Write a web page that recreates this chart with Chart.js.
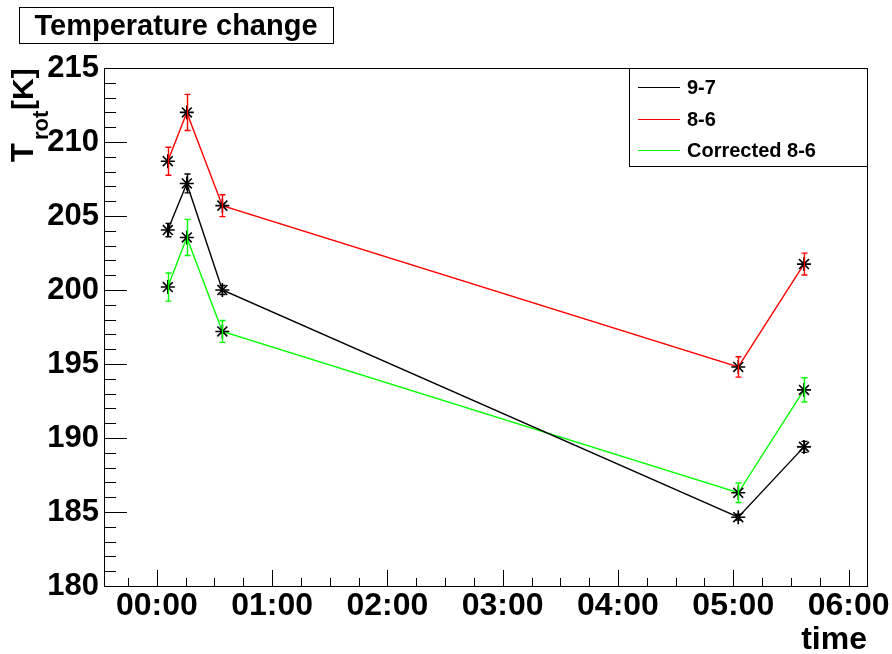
<!DOCTYPE html>
<html>
<head>
    <title>Temperature change</title>
    <style>
        body { margin: 0; padding: 0; background: #fff; }
        #chartContainer { width: 892px; height: 654px; }
    </style>
    <script src="https://cdn.jsdelivr.net/npm/chart.js"></script>
</head>
<body>

    <div id="chartContainer">
        <canvas id="tempChart" width="892" height="654"></canvas>
    </div>

    <script>
        // time in minutes after 00:00
        const times = [5.7, 15.6, 34.1, 302.6, 336.8];

        const t97 = [204.05, 207.2, 200.0, 184.65, 189.4];
        const err97 = [0.45, 0.64, 0.3, 0.2, 0.37];

        const t86 = [208.7, 212.0, 205.7, 194.8, 201.75];
        const err86 = [0.95, 1.22, 0.74, 0.69, 0.74];

        const t86c = [200.2, 203.55, 197.2, 186.3, 193.25];
        const errc = [0.95, 1.22, 0.74, 0.66, 0.82];

        const seriesNames = ['9-7', '8-6', 'Corrected 8-6'];
        const seriesColors = ['#000000', '#ff0000', '#00ff00'];

        const hourLabels = ['00:00', '01:00', '02:00', '03:00', '04:00', '05:00', '06:00'];

        const FONT = '"Liberation Sans", Helvetica, Arial, sans-serif';

        function points(ys) {
            return ys.map((y, i) => ({ x: times[i], y: y }));
        }

        function makeSet(i, ys, errs) {
            return {
                label: seriesNames[i],
                data: points(ys),
                errors: errs,
                borderColor: seriesColors[i],
                borderWidth: 1.4,
                backgroundColor: seriesColors[i],
                tension: 0,
                pointStyle: 'star',
                pointRadius: 7,
                pointBorderColor: '#000',
                pointBorderWidth: 1.6,
                pointBackgroundColor: '#000'
            };
        }

        // error bars, drawn through the scales
        const errorBars = {
            id: 'errorBars',
            afterDatasetsDraw(chart) {
                const ctx = chart.ctx;
                const xs = chart.scales.x, ys = chart.scales.y;
                chart.data.datasets.forEach(ds => {
                    ctx.save();
                    ctx.strokeStyle = ds.borderColor;
                    ctx.lineWidth = 1.4;
                    ds.data.forEach((p, i) => {
                        const e = ds.errors[i];
                        const px = Math.round(xs.getPixelForValue(p.x)) + 0.5;
                        const top = ys.getPixelForValue(p.y + e);
                        const bot = ys.getPixelForValue(p.y - e);
                        ctx.beginPath();
                        ctx.moveTo(px, top); ctx.lineTo(px, bot);
                        ctx.moveTo(px - 3, top); ctx.lineTo(px + 3, top);
                        ctx.moveTo(px - 3, bot); ctx.lineTo(px + 3, bot);
                        ctx.stroke();
                    });
                    ctx.restore();
                });
            }
        };

        // frame, inward ticks, title box, axis titles, legend box
        const decorations = {
            id: 'decorations',
            afterDraw(chart) {
                const ctx = chart.ctx;
                const a = chart.chartArea;
                const xs = chart.scales.x, ys = chart.scales.y;
                ctx.save();
                ctx.strokeStyle = '#000';
                ctx.lineWidth = 1;
                ctx.strokeRect(Math.round(a.left) + 0.5, Math.round(a.top) + 0.5,
                    Math.round(a.right - a.left), Math.round(a.bottom - a.top));

                ctx.beginPath();
                xs.ticks.forEach(t => {
                    const px = Math.round(xs.getPixelForValue(t.value)) + 0.5;
                    const len = (t.value % 60 === 0) ? 16 : 8;
                    ctx.moveTo(px, a.bottom); ctx.lineTo(px, a.bottom - len);
                });
                ys.ticks.forEach(t => {
                    const py = Math.round(ys.getPixelForValue(t.value)) + 0.5;
                    const len = (t.value % 5 === 0) ? 23 : 12;
                    ctx.moveTo(a.left, py); ctx.lineTo(a.left + len, py);
                });
                ctx.stroke();

                // title box
                ctx.fillStyle = '#fff';
                ctx.fillRect(19.5, 7.5, 314, 36);
                ctx.strokeRect(19.5, 7.5, 314, 36);
                ctx.fillStyle = '#000';
                ctx.font = 'bold 29px ' + FONT;
                ctx.textAlign = 'center';
                ctx.textBaseline = 'alphabetic';
                ctx.fillText('Temperature change', 176, 35);

                // x title
                ctx.font = 'bold 32px ' + FONT;
                ctx.textAlign = 'right';
                ctx.fillText('time', a.right, 649);

                // y title with subscript
                ctx.save();
                ctx.translate(33, 0);
                ctx.rotate(-Math.PI / 2);
                ctx.textAlign = 'left';
                ctx.font = 'bold 31px ' + FONT;
                ctx.fillText('T', -162, 0);
                ctx.font = 'bold 22px ' + FONT;
                ctx.fillText('rot', -140, 15);
                ctx.font = 'bold 30px ' + FONT;
                ctx.fillText('[K]', -110, 0);
                ctx.restore();

                // legend
                const lx = 629, ly = 68, lw = a.right - 629, lh = 98;
                ctx.fillStyle = '#fff';
                ctx.fillRect(lx + 0.5, ly + 0.5, lw, lh);
                ctx.strokeRect(lx + 0.5, ly + 0.5, lw, lh);
                const rows = [87, 119, 150];
                ctx.font = 'bold 20px ' + FONT;
                ctx.textBaseline = 'middle';
                ctx.textAlign = 'left';
                chart.data.datasets.forEach((ds, i) => {
                    ctx.strokeStyle = ds.borderColor;
                    ctx.beginPath();
                    ctx.moveTo(638, rows[i] + 0.5);
                    ctx.lineTo(680, rows[i] + 0.5);
                    ctx.stroke();
                    ctx.fillStyle = '#000';
                    ctx.fillText(ds.label, 687, rows[i] + 1);
                });
                ctx.restore();
            }
        };

        const ctx = document.getElementById('tempChart').getContext('2d');
        new Chart(ctx, {
            type: 'line',
            data: {
                datasets: [
                    makeSet(0, t97, err97),
                    makeSet(1, t86, err86),
                    makeSet(2, t86c, errc)
                ]
            },
            options: {
                responsive: false,
                animation: false,
                layout: { padding: { left: 0, top: 68, right: 25, bottom: 0 } },
                plugins: {
                    legend: { display: false },
                    tooltip: { enabled: false }
                },
                scales: {
                    x: {
                        type: 'linear',
                        min: -27.5,
                        max: 369.6,
                        afterFit: s => { s.height = 68; },
                        grid: { display: false, drawTicks: false },
                        border: { display: false },
                        ticks: {
                            stepSize: 15,
                            includeBounds: false,
                            autoSkip: false,
                            maxRotation: 0,
                            padding: 1,
                            color: '#000',
                            font: { family: FONT, size: 32, weight: 'bold' },
                            callback: v => (v % 60 === 0 && v >= 0) ? hourLabels[v / 60] : ''
                        }
                    },
                    y: {
                        min: 180,
                        max: 215,
                        afterFit: s => { s.width = 104; },
                        grid: { display: false, drawTicks: false },
                        border: { display: false },
                        ticks: {
                            stepSize: 1,
                            autoSkip: false,
                            padding: 5,
                            color: '#000',
                            font: { family: FONT, size: 31, weight: 'bold' },
                            callback: v => (v % 5 === 0) ? String(v) : ''
                        }
                    }
                }
            },
            plugins: [errorBars, decorations]
        });
    </script>

</body>
</html>
